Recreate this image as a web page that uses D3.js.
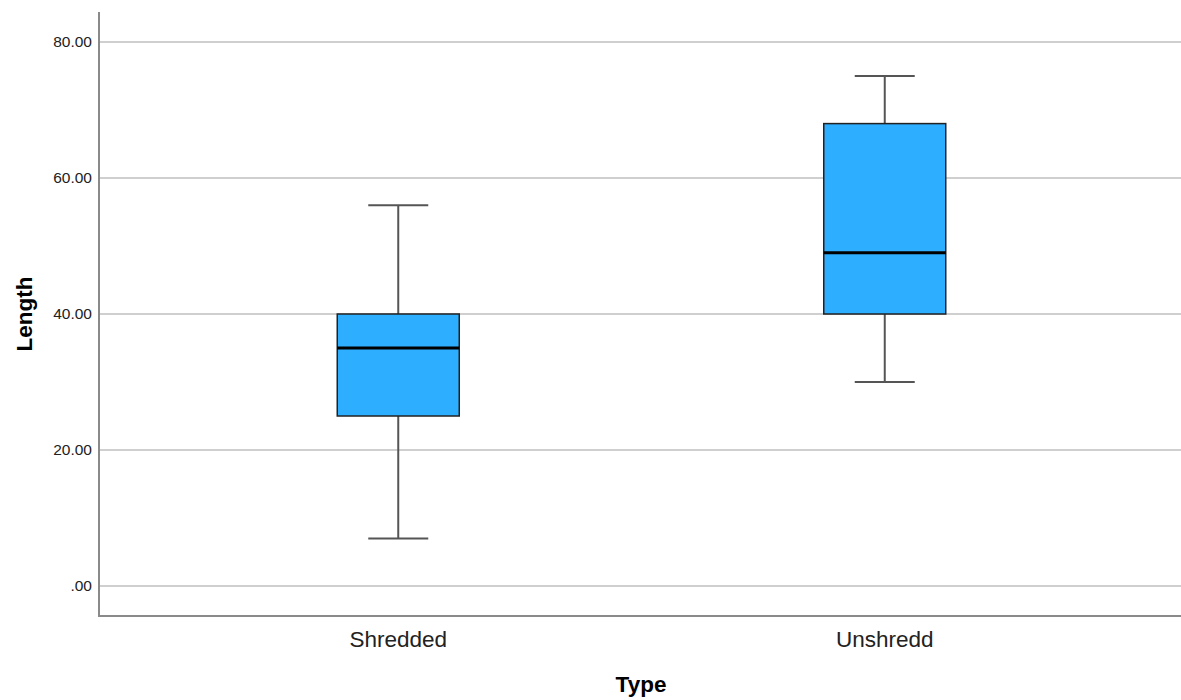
<!DOCTYPE html>
<html>
<head>
<meta charset="utf-8">
<script src="https://cdn.jsdelivr.net/npm/d3@7"></script>
<style>
  body { margin: 0; background: #fff; }
  svg { display: block; }
  text { font-family: "Liberation Sans", Arial, sans-serif; fill: #222; }
  .tick-label { font-size: 15.5px; }
  .cat-label { font-size: 22.5px; }
  .axis-title { font-size: 22.5px; font-weight: 700; fill: #000; }
  .grid line { stroke: #cfcfcf; stroke-width: 2; }
  .axis-line { stroke: #8a8a8a; stroke-width: 2; }
  .box { fill: #2eaefe; stroke: #222; stroke-width: 1.5; }
  .median { stroke: #000; stroke-width: 3; }
  .whisker { stroke: #555; stroke-width: 2; }
</style>
</head>
<body>
<div id="chart"></div>
<script>
// data
const categories = ["Shredded", "Unshredd"];
const mins = [7, 30];
const q1s = [25, 40];
const medians = [35, 49];
const q3s = [40, 68];
const maxs = [56, 75];
const yTicks = [0, 20, 40, 60, 80];

const W = 1181, H = 700;
const m = { left: 99, right: 1181, top: 12, bottom: 616 };

const svg = d3.select("#chart").append("svg")
  .attr("width", W).attr("height", H);

const y = d3.scaleLinear()
  .domain([-4.41, 84.41])
  .range([m.bottom, m.top]);

const x = d3.scalePoint()
  .domain(categories)
  .range([m.left + 2, m.right + 1])
  .padding(0.611);

const boxW = 122, capW = 60;

// grid lines
svg.append("g").attr("class", "grid")
  .selectAll("line").data(yTicks).enter().append("line")
  .attr("x1", m.left).attr("x2", m.right)
  .attr("y1", d => y(d)).attr("y2", d => y(d));

// y tick labels
svg.append("g").selectAll("text").data(yTicks).enter().append("text")
  .attr("class", "tick-label")
  .attr("x", m.left - 7)
  .attr("y", d => y(d))
  .attr("dy", "0.35em")
  .attr("text-anchor", "end")
  .text(d => d === 0 ? ".00" : d3.format(".2f")(d));

// axes lines
svg.append("line").attr("class", "axis-line")
  .attr("x1", m.left).attr("x2", m.left).attr("y1", m.top).attr("y2", m.bottom + 1);
svg.append("line").attr("class", "axis-line")
  .attr("x1", m.left).attr("x2", m.right).attr("y1", m.bottom).attr("y2", m.bottom);

const groups = svg.append("g").selectAll("g").data(categories).enter().append("g");
const cx = c => x(c);

// whiskers
groups.append("line").attr("class", "whisker")
  .attr("x1", cx).attr("x2", cx)
  .attr("y1", (c, i) => y(maxs[i])).attr("y2", (c, i) => y(q3s[i]));
groups.append("line").attr("class", "whisker")
  .attr("x1", cx).attr("x2", cx)
  .attr("y1", (c, i) => y(q1s[i])).attr("y2", (c, i) => y(mins[i]));
groups.append("line").attr("class", "whisker")
  .attr("x1", c => cx(c) - capW / 2).attr("x2", c => cx(c) + capW / 2)
  .attr("y1", (c, i) => y(maxs[i])).attr("y2", (c, i) => y(maxs[i]));
groups.append("line").attr("class", "whisker")
  .attr("x1", c => cx(c) - capW / 2).attr("x2", c => cx(c) + capW / 2)
  .attr("y1", (c, i) => y(mins[i])).attr("y2", (c, i) => y(mins[i]));

// boxes
groups.append("rect").attr("class", "box")
  .attr("x", c => cx(c) - boxW / 2)
  .attr("width", boxW)
  .attr("y", (c, i) => y(q3s[i]))
  .attr("height", (c, i) => y(q1s[i]) - y(q3s[i]));

groups.append("line").attr("class", "median")
  .attr("x1", c => cx(c) - boxW / 2).attr("x2", c => cx(c) + boxW / 2)
  .attr("y1", (c, i) => y(medians[i])).attr("y2", (c, i) => y(medians[i]));

// category labels
groups.append("text").attr("class", "cat-label")
  .attr("x", cx)
  .attr("y", m.bottom + 31)
  .attr("text-anchor", "middle")
  .text(c => c);

// axis titles
svg.append("text").attr("class", "axis-title")
  .attr("x", 641)
  .attr("y", 692)
  .attr("text-anchor", "middle")
  .text("Type");

svg.append("text").attr("class", "axis-title")
  .attr("transform", `translate(32, 314) rotate(-90)`)
  .attr("text-anchor", "middle")
  .text("Length");
</script>
</body>
</html>
